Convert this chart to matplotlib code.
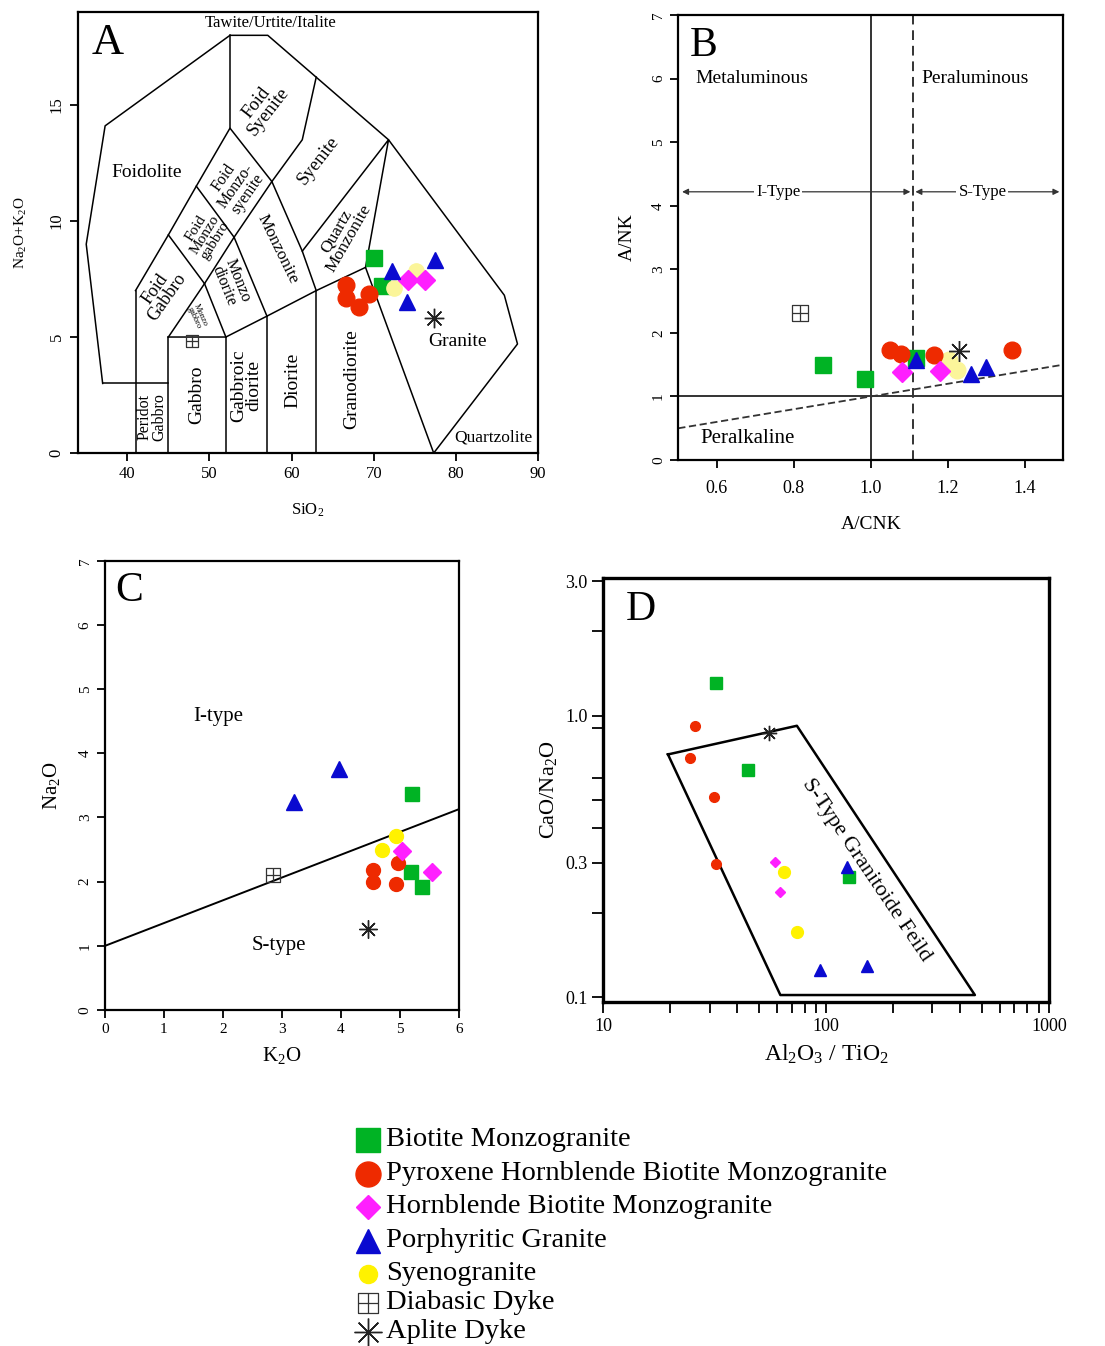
import matplotlib
matplotlib.use("Agg")
import matplotlib.pyplot as plt
from matplotlib.path import Path

plt.rcParams['font.family'] = ['Liberation Serif', 'DejaVu Serif']
plt.rcParams['mathtext.fontset'] = 'custom'
plt.rcParams['mathtext.rm'] = 'Liberation Serif'
plt.rcParams['mathtext.it'] = 'Liberation Serif:italic'
plt.rcParams['mathtext.default'] = 'rm'

GREEN = '#00b324'
RED = '#ee2a00'
MAGENTA = '#ff1fff'
BLUE = '#0a0ad0'
YELLOW = '#fff200'
PALE_YELLOW = '#fbf59a'

# square with a cross for the diabasic dyke
DIABASE = Path([(-1, -1), (1, -1), (1, 1), (-1, 1), (-1, -1), (0, -1), (0, 1), (-1, 0), (1, 0)],
               [Path.MOVETO, Path.LINETO, Path.LINETO, Path.LINETO, Path.LINETO,
                Path.MOVETO, Path.LINETO, Path.MOVETO, Path.LINETO])
ASTER = (8, 2, 0)

# ---------------- data ----------------
# A: TAS (SiO2 vs Na2O+K2O)
a_bm = ([70.0, 71.0], [8.4, 7.2])
a_px = ([66.6, 66.6, 68.2, 69.4], [7.26, 6.68, 6.29, 6.87])
a_hb = ([74.2, 76.2], [7.44, 7.44])
a_pg = ([72.2, 77.5, 74.0], [7.83, 8.34, 6.49])
a_sy = ([75.1, 72.5], [7.83, 7.13])
a_dd = ([47.9], [4.81])
a_ap = ([77.3], [5.82])

# B: A/CNK vs A/NK
b_bm = ([0.877, 0.984, 1.117], [1.49, 1.28, 1.61])
b_px = ([1.049, 1.078, 1.164, 1.366], [1.73, 1.67, 1.65, 1.73])
b_hb = ([1.082, 1.181], [1.39, 1.40])
b_pg = ([1.117, 1.261, 1.299], [1.58, 1.36, 1.46])
b_sy = ([1.203, 1.224], [1.57, 1.41])
b_dd = ([0.817], [2.32])
b_ap = ([1.228], [1.72])

# C: K2O vs Na2O
c_bm = ([5.21, 5.19, 5.37], [3.36, 2.15, 1.92])
c_px = ([4.55, 4.55, 4.97, 4.93], [2.18, 1.99, 2.29, 1.97])
c_hb = ([5.03, 5.54], [2.48, 2.15])
c_pg = ([3.21, 3.97], [3.24, 3.75])
c_sy = ([4.93, 4.69], [2.71, 2.50])
c_dd = ([2.85], [2.10])
c_ap = ([4.45], [1.26])

# D: Al2O3/TiO2 vs CaO/Na2O
d_bm = ([32.0, 44.6, 126.0], [1.30, 0.641, 0.268])
d_px = ([25.9, 24.6, 31.5, 32.2], [0.92, 0.705, 0.515, 0.297])
d_hb = ([59.2, 61.8], [0.303, 0.237])
d_pg = ([124.0, 94.2, 153.0], [0.291, 0.125, 0.129])
d_sy = ([64.4, 73.9], [0.278, 0.171])
d_ap = ([55.3], [0.865])

# TAS (Middlemost) boundaries
tas_lines = [
    [(37, 3), (45, 3)],
    [(37, 3), (35, 9), (37.3, 14.1), (52.5, 18), (57.1, 18), (71.8, 13.5), (85.9, 6.8), (87.5, 4.7), (77.3, 0)],
    [(41, 0), (41, 7)], [(45, 0), (45, 5)], [(52, 0), (52, 5)], [(57, 0), (57, 5.9)], [(63, 0), (63, 7)],
    [(45, 5), (52, 5), (57, 5.9), (63, 7), (69, 8), (77.3, 0)],
    [(69, 8), (71.8, 13.5), (61.3, 8.7), (63, 7)],
    [(61.3, 8.7), (57.6, 11.7), (53, 9.3), (49.4, 7.3), (45, 5)],
    [(49.4, 7.3), (52, 5)], [(53, 9.3), (57, 5.9)],
    [(41, 7), (45, 9.4), (48.4, 11.5), (52.5, 14), (57.6, 11.7)],
    [(45, 9.4), (49.4, 7.3)], [(48.4, 11.5), (53, 9.3)], [(52.5, 14), (52.5, 18)],
    [(57.6, 11.7), (61.3, 13.5), (63, 16.2)],
]
tas_names = [
    ("Tawite/Urtite/Italite", 57.4, 18.55, 0, 12),
    ("Foidolite", 42.4, 12.1, 0, 14),
    ("Foid\nSyenite", 56.4, 14.9, 52, 13.5),
    ("Syenite", 63.3, 12.6, 52, 13.5),
    ("Quartz\nMonzonite", 66.2, 9.4, 60, 12.5),
    ("Monzonite", 58.3, 8.8, -64, 12.5),
    ("Foid\nMonzo-\nsyenite", 53.2, 11.5, 55, 11.5),
    ("Foid\nMonzo\ngabbro", 49.5, 9.4, 58, 11),
    ("Foid\nGabbro", 44.1, 6.9, 55, 13),
    ("Monzo\ndiorite", 52.6, 7.3, -68, 11.5),
    ("Monzo\ngabbro", 48.5, 5.9, -65, 6),
    ("Peridot\nGabbro", 43.0, 1.55, 90, 11.5),
    ("Gabbro", 48.4, 2.5, 90, 14),
    ("Gabbroic\ndiorite", 54.5, 2.9, 90, 14),
    ("Diorite", 60.2, 3.15, 90, 14),
    ("Granodiorite", 67.3, 3.2, 90, 14),
    ("Granite", 80.2, 4.8, 0, 14),
    ("Quartzolite", 84.6, 0.65, 0, 12.5),
]

# S-type granitoid field (panel D)
d_field = [(19.5, 0.728), (73.9, 0.92), (465.0, 0.102), (62.3, 0.102), (19.5, 0.728)]

legend_rows = [
    ("Biotite Monzogranite", 's', GREEN, 17),
    ("Pyroxene Hornblende Biotite Monzogranite", 'o', RED, 18),
    ("Hornblende Biotite Monzogranite", 'D', MAGENTA, 12),
    ("Porphyritic Granite", '^', BLUE, 17),
    ("Syenogranite", 'o', YELLOW, 13),
    ("Diabasic Dyke", DIABASE, 'none', 14),
    ("Aplite Dyke", ASTER, 'k', 20),
]
# legend layout, in figure pixels
legend_rows_px = [1140, 1174, 1207, 1241, 1274, 1303, 1332]


def groups(bm, px, hb, pg, sy, dd, ap, sizes, yellow):
    return [
        (bm, 's', GREEN, sizes[0]),
        (sy, 'o', yellow, sizes[4]),
        (px, 'o', RED, sizes[1]),
        (hb, 'D', MAGENTA, sizes[2]),
        (pg, '^', BLUE, sizes[3]),
        (dd, DIABASE, 'none', sizes[5]),
        (ap, ASTER, 'k', sizes[6]),
    ]


def draw_marker(ax, xs, ys, mk, col, ms):
    if col == 'none':
        ax.plot(xs, ys, ls='none', marker=mk, ms=ms, mfc='none', mec='#333333', mew=0.9, zorder=5)
    elif col == 'k':
        ax.plot(xs, ys, ls='none', marker=mk, ms=ms, color='#222222', mew=1.0, zorder=5)
    else:
        ax.plot(xs, ys, ls='none', marker=mk, ms=ms, mfc=col, mec=col, zorder=5)


def draw_points(ax, grp):
    for (xs, ys), mk, col, ms in grp:
        if xs:
            draw_marker(ax, xs, ys, mk, col, ms)


def frame(ax, lw=1.6):
    for s in ax.spines.values():
        s.set_linewidth(lw)
    ax.tick_params(direction='out', length=6, width=1.3)


fig = plt.figure(figsize=(11.05, 13.46), dpi=100)

# ---------------- A ----------------
axA = fig.add_axes([0.0706, 0.6634, 0.4163, 0.3276])
for seg in tas_lines:
    xs, ys = zip(*seg)
    axA.plot(xs, ys, color='k', lw=1.1, zorder=2)
for txt, x, y, rot, fs in tas_names:
    axA.text(x, y, txt, rotation=rot, fontsize=fs, ha='center', va='center',
             multialignment='center', linespacing=0.85, rotation_mode='anchor')
draw_points(axA, groups(a_bm, a_px, a_hb, a_pg, a_sy, a_dd, a_ap, [12, 12, 10, 12, 11, 9, 14], PALE_YELLOW))
axA.set_xlim(34, 90)
axA.set_ylim(0, 19)
axA.set_xticks([40, 50, 60, 70, 80, 90])
axA.set_yticks([0, 5, 10, 15])
axA.tick_params(labelsize=12)
for t in axA.get_yticklabels():
    t.set_rotation(90)
    t.set_va('center')
axA.set_xlabel("SiO$_2$", fontsize=12, labelpad=14)
axA.set_ylabel("Na$_2$O+K$_2$O", fontsize=11, labelpad=14)
axA.text(0.03, 0.975, "A", transform=axA.transAxes, fontsize=32, ha='left', va='top')
frame(axA, 1.6)

# ---------------- B ----------------
axB = fig.add_axes([0.6138, 0.6582, 0.3484, 0.3306])
axB.axvline(1.0, color='#333333', lw=1.4)
axB.axvline(1.11, color='#333333', lw=1.4, ls=(0, (5, 3)))
axB.axhline(1.0, color='#333333', lw=1.4)
axB.plot([0.5, 1.5], [0.5, 1.5], color='#333333', lw=1.3, ls=(0, (4, 2)))
arrow = dict(arrowstyle='<|-|>', color='#333333', lw=0.9, mutation_scale=9, shrinkA=0, shrinkB=0)
axB.annotate('', xy=(0.51, 4.22), xytext=(1.103, 4.22), arrowprops=arrow)
axB.annotate('', xy=(1.116, 4.22), xytext=(1.49, 4.22), arrowprops=arrow)
box = dict(facecolor='white', edgecolor='none', pad=1.5)
axB.text(0.76, 4.22, "I-Type", fontsize=12, ha='center', va='center', bbox=box)
axB.text(1.29, 4.22, "S-Type", fontsize=12, ha='center', va='center', bbox=box)
axB.text(0.69, 6.0, "Metaluminous", fontsize=14, ha='center', va='center')
axB.text(1.27, 6.0, "Peraluminous", fontsize=14, ha='center', va='center')
axB.text(0.68, 0.34, "Peralkaline", fontsize=15, ha='center', va='center')
axB.text(0.03, 0.975, "B", transform=axB.transAxes, fontsize=30, ha='left', va='top')
draw_points(axB, groups(b_bm, b_px, b_hb, b_pg, b_sy, b_dd, b_ap, [12, 12, 10, 12, 12, 11, 15], PALE_YELLOW))
axB.set_xlim(0.5, 1.5)
axB.set_ylim(0, 7)
axB.set_xticks([0.6, 0.8, 1.0, 1.2, 1.4])
axB.set_xticklabels(["0.6", "0.8", "1.0", "1.2", "1.4"])
axB.set_yticks(range(8))
axB.tick_params(axis='x', labelsize=13, pad=8)
axB.tick_params(axis='y', labelsize=11)
for t in axB.get_yticklabels():
    t.set_rotation(90)
    t.set_va('center')
axB.set_xlabel("A/CNK", fontsize=14, labelpad=14)
axB.set_ylabel("A/NK", fontsize=14, labelpad=12)
frame(axB, 1.6)

# ---------------- C ----------------
axC = fig.add_axes([0.0950, 0.2496, 0.3204, 0.3338])
axC.plot([0, 6], [1.0, 3.13], color='k', lw=1.4)
axC.text(0.03, 0.975, "C", transform=axC.transAxes, fontsize=30, ha='left', va='top')
axC.text(1.92, 4.57, "I-type", fontsize=15, ha='center', va='center')
axC.text(2.94, 1.0, "S-type", fontsize=15, ha='center', va='center')
draw_points(axC, groups(c_bm, c_px, c_hb, c_pg, c_sy, c_dd, c_ap, [10, 10, 9, 11, 10, 10, 13], YELLOW))
axC.set_xlim(0, 6)
axC.set_ylim(0, 7)
axC.set_xticks(range(7))
axC.set_yticks(range(8))
axC.tick_params(labelsize=11)
for t in axC.get_yticklabels():
    t.set_rotation(90)
    t.set_va('center')
axC.set_xlabel("K$_2$O", fontsize=15, labelpad=6)
axC.set_ylabel("Na$_2$O", fontsize=15, labelpad=12)
frame(axC, 1.6)

# ---------------- D ----------------
axD = fig.add_axes([0.5460, 0.2558, 0.4033, 0.3146])
axD.set_xscale('log')
axD.set_yscale('log')
fx, fy = zip(*d_field)
axD.plot(fx, fy, color='k', lw=1.8)
axD.text(151, 0.283, "S-Type Granitoide Feild", fontsize=16, rotation=-56,
         ha='center', va='center', rotation_mode='anchor')
axD.text(0.05, 0.97, "D", transform=axD.transAxes, fontsize=30, ha='left', va='top')
draw_points(axD, groups(d_bm, d_px, d_hb, d_pg, d_sy, ([], []), d_ap, [8, 7, 5.5, 9, 8.5, 8, 11], YELLOW))
axD.set_xlim(10, 1000)
axD.set_ylim(0.0966, 3.07)
axD.set_xticks([10, 100, 1000])
axD.set_xticklabels(["10", "100", "1000"])
axD.set_xticks([20, 30, 40, 50, 60, 70, 80, 90, 200, 300, 400, 500, 600, 700, 800, 900], minor=True)
axD.set_yticks([0.1, 0.3, 1.0, 3.0])
axD.set_yticklabels(["0.1", "0.3", "1.0", "3.0"])
axD.set_yticks([0.2, 0.4, 0.5, 0.6, 0.9, 2.0], minor=True)
axD.yaxis.set_minor_formatter(plt.NullFormatter())
axD.xaxis.set_minor_formatter(plt.NullFormatter())
axD.tick_params(which='both', direction='out', width=1.3, labelsize=13)
axD.tick_params(which='major', length=8)
axD.tick_params(which='minor', length=8)
for s in axD.spines.values():
    s.set_linewidth(2.4)
axD.set_xlabel("Al$_2$O$_3$ / TiO$_2$", fontsize=17, labelpad=6)
axD.set_ylabel("CaO/Na$_2$O", fontsize=16, labelpad=4)

# ---------------- legend ----------------
W, H = 1105, 1346
axL = fig.add_axes([0.30, 0.0, 0.55, 0.17])
axL.set_axis_off()
axL.set_xlim(0.30 * W, 0.85 * W)
axL.set_ylim(H, H - 0.17 * H)
for (label, mk, col, ms), y in zip(legend_rows, legend_rows_px):
    draw_marker(axL, [368], [y], mk, col, ms)
    axL.text(386, y, label, fontsize=20.5, ha='left', va='center')

fig.savefig("out.png", dpi=100)
